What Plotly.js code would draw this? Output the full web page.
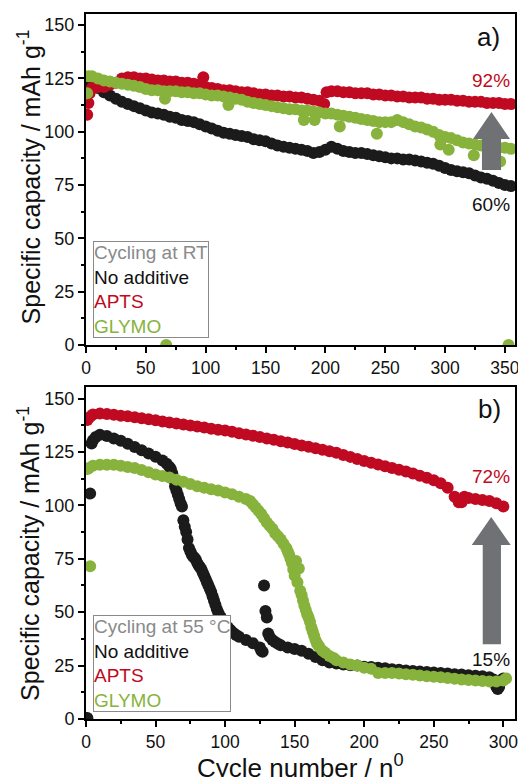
<!DOCTYPE html>
<html>
<head>
<meta charset="utf-8">
<script src="https://cdn.plot.ly/plotly-3.0.1.min.js"></script>
<style>html,body{margin:0;padding:0;background:#fff;}#chart{width:518px;height:777px;}</style>
</head>
<body>
<div id="chart"></div>
<script>
// ---- Panel a) cycling at RT : [cycle, capacity mAh/g]
const rtNoAdditive = [[1,123],[5,122],[10,120.5],[15,118.5],[20,117],[25,115.5],[30,114],[35,113],[40,112],[45,111],[50,110],[55,109],[60,108.5],[65,108],[70,107],[75,106.5],[80,105.5],[85,105],[90,104.5],[95,103.5],[100,102.5],[105,101.5],[110,100.5],[115,99.5],[120,99],[125,98.5],[130,98],[135,97.5],[140,96.5],[145,96],[150,95.5],[155,94.5],[160,93.5],[165,93],[170,92.5],[175,92],[180,91.5],[185,91],[190,90],[195,90.5],[200,91.5],[205,93],[210,92],[215,91],[220,90.5],[225,90],[230,90],[235,89.5],[240,89],[245,88.5],[250,88],[255,87.5],[260,87.5],[265,87],[270,87],[275,86.5],[280,86],[285,85.5],[290,85],[295,84],[300,83],[305,82],[310,81.5],[315,81],[320,80.5],[325,79.5],[330,78.5],[335,78],[340,77],[345,76],[350,75],[355,74.5]];
const rtAPTS = [[1,108],[2,113.5],[3,118],[5,120.5],[10,121],[15,121],[20,122],[25,123],[30,125],[35,125.5],[40,125.5],[45,125],[50,125],[55,124.5],[60,124],[65,124],[70,123.5],[75,123.5],[80,123],[85,123],[90,122.5],[95,122],[98,125.5],[100,121],[105,120.5],[110,120],[115,119.5],[120,119.5],[125,119],[130,118.5],[135,118.5],[140,118],[145,117.5],[150,117.5],[155,117],[160,117],[165,116.5],[170,116.5],[175,116],[180,116],[185,115.5],[190,115],[195,114.5],[199,113],[201,118.5],[205,119],[210,119],[215,118.5],[220,118.5],[225,118],[230,118],[235,118],[240,117.5],[245,117.5],[250,117],[255,117],[260,116.5],[265,116.5],[270,116],[275,116],[280,116],[285,115.5],[290,115.5],[295,115],[300,115],[305,115],[310,114.5],[315,114.5],[320,114],[325,114],[330,114],[335,113.5],[340,113.5],[345,113.5],[350,113],[355,113]];
const rtGLYMO = [[1,118],[2,126],[5,126],[10,125],[15,124],[20,123.5],[25,123],[30,122.5],[35,122],[40,121.5],[45,121],[50,120],[55,119.5],[60,119.5],[65,119],[66,115.5],[67,0],[70,119],[75,119],[80,118.5],[85,118.5],[90,118],[95,118],[100,117.5],[105,117],[110,117],[115,116.5],[119,112.5],[120,116],[125,115.5],[130,115],[135,114],[140,113.5],[145,113],[150,112.5],[155,112],[160,111.5],[165,111],[170,110.5],[175,110.5],[180,110],[182,105.5],[185,110],[190,109.5],[191,105.5],[195,109],[200,108.5],[205,108.5],[210,108],[212,102.5],[215,107.5],[220,107],[225,106.5],[230,106],[235,105.5],[240,105],[243,99],[245,104.5],[250,104.5],[255,104.5],[260,105.5],[265,104.5],[270,103.5],[275,102.5],[280,102],[285,101],[290,100],[295,98.5],[296,94],[300,97.5],[303,91.5],[305,97],[310,96],[315,95],[320,94.5],[324,89],[325,94],[330,93.5],[335,94.5],[340,93],[345,92.5],[346,86],[350,92.5],[353,0],[355,92]];

// ---- Panel b) cycling at 55 °C
const htNoAdditive = [[1,0.5],[3,105.5],[4,129],[5,130.5],[7,132],[10,133],[15,132.5],[20,131.3],[25,130.2],[30,128.8],[35,127.3],[40,125.8],[45,124.3],[50,122.8],[55,121],[58,119.5],[60,118],[61,117],[62,115],[63,112],[64,109],[65,107],[66,105],[67,103],[68,101],[69,99.5],[70,93],[71,90],[72,87.5],[73,84],[74,80],[75,78.5],[76,77],[77,76],[78,75.5],[79,74.5],[80,73],[81,72],[82,71],[83,70],[84,68.5],[85,67],[86,65.5],[87,64],[88,62.5],[89,61],[90,59.5],[91,57.5],[92,55.5],[93,53.5],[94,51.5],[95,50],[96,48.5],[97,47.5],[98,46.5],[99,45.5],[100,44.5],[102,43],[104,41.5],[106,40.3],[108,39.3],[110,38.5],[115,37],[120,35.5],[125,33.5],[126,32],[127,31.5],[128,62.5],[129,50.5],[130,47.5],[131,40],[132,38.5],[134,37],[136,36],[138,35.2],[140,34.5],[145,33.5],[150,32.8],[155,32],[160,30.5],[165,29],[170,27.5],[175,26.5],[180,26],[185,25.5],[190,25.2],[195,25],[200,24.5],[205,24.3],[210,24],[215,23.7],[220,23.3],[225,23],[230,22.7],[235,22.5],[240,22.2],[245,22],[250,21.8],[255,21.5],[260,21.3],[265,21],[270,20.8],[275,20.5],[280,20.3],[285,20],[290,19.5],[293,18.5],[295,15],[296,14],[297,15],[299,18],[300,19]];
const htAPTS = [[1,140],[3,141.5],[5,142.5],[10,143],[15,142.8],[20,142.4],[25,142],[30,141.7],[35,141.3],[40,140.8],[45,140.3],[50,139.8],[55,139.3],[60,138.8],[65,138.3],[70,137.8],[75,137.4],[80,136.9],[85,136.4],[90,135.9],[95,135.4],[100,135],[105,134.5],[110,133.8],[115,133.2],[120,132.6],[125,132],[130,131.3],[135,130.7],[140,130],[145,129.4],[150,128.7],[155,128],[160,127.4],[165,126.7],[170,126],[175,125.3],[180,124.6],[185,123.6],[190,122.7],[195,121.7],[200,120.8],[205,119.9],[210,119.1],[215,118.3],[220,117.5],[225,116.7],[230,115.8],[235,114.9],[240,113.9],[245,112.9],[250,111.8],[255,110.3],[260,108.2],[265,104],[268,101.5],[270,101.5],[272,104],[275,103.5],[280,103],[285,102.5],[290,102],[295,101],[300,99.5]];
const htGLYMO = [[1,117],[2,117.5],[3,71.5],[5,118.5],[10,119],[15,119],[20,119],[25,118.5],[30,118],[35,117.5],[40,116.5],[45,115.5],[50,114.5],[55,113.8],[60,113],[65,112],[70,111],[75,110],[80,109],[85,108.3],[90,107.6],[95,107],[100,106],[105,105.2],[110,104],[115,103],[118,102],[120,100.5],[122,99],[124,97.5],[126,96],[128,94],[130,92],[132,90.5],[134,89],[136,87],[138,85.5],[140,84],[142,82],[144,80],[145,78.5],[146,77],[147,75],[148,73],[149,70],[150,67],[151,74],[152,64],[153,70.5],[154,60],[155,58],[156,55.5],[157,53],[158,51],[159,49],[160,47.5],[161,45.5],[162,43],[163,41],[164,39],[165,37],[166,35.5],[167,34.5],[168,33.5],[170,32],[172,31],[175,29.5],[178,28.5],[180,27.5],[185,26.5],[190,25.5],[195,25],[200,24],[205,23.5],[210,21.5],[215,21.5],[220,21.5],[225,21.3],[230,21],[235,20.7],[240,20.4],[245,20],[250,19.8],[255,19.5],[260,19.2],[265,18.8],[270,18.5],[275,18.2],[280,18],[285,17.8],[290,17.6],[295,17.5],[300,18],[302,19]];

const yTicks = [0, 25, 50, 75, 100, 125, 150];
const xTicksA = [0, 50, 100, 150, 200, 250, 300, 350];
const xTicksB = [0, 50, 100, 150, 200, 250, 300];

const cBlack = '#1b1b1b', cRed = '#c00a22', cGreen = '#87b33c', cGray = '#707174';
const FONT = 'Liberation Sans, Arial, sans-serif';

function tr(data, color, xa, ya) {
  return {
    type: 'scatter', mode: 'markers',
    x: data.map(d => d[0]), y: data.map(d => d[1]),
    xaxis: xa, yaxis: ya,
    marker: {color: color, size: 12, line: {width: 0}},
    hoverinfo: 'skip', showlegend: false
  };
}

const traces = [
  tr(rtNoAdditive, cBlack, 'x', 'y'),
  tr(rtAPTS, cRed, 'x', 'y'),
  tr(rtGLYMO, cGreen, 'x', 'y'),
  tr(htNoAdditive, cBlack, 'x2', 'y2'),
  tr(htAPTS, cRed, 'x2', 'y2'),
  tr(htGLYMO, cGreen, 'x2', 'y2')
];

function xax(range, ticks, anchor) {
  return {
    range: range, anchor: anchor, domain: [0, 1],
    tickmode: 'array', tickvals: ticks, ticktext: ticks.map(String),
    ticks: 'outside', ticklen: 6, tickwidth: 2, tickcolor: '#000',
    minor: {dtick: 25, tick0: 0, ticks: 'outside', ticklen: 3, tickwidth: 2, tickcolor: '#000'},
    showline: true, linewidth: 2, linecolor: '#000', mirror: true,
    showgrid: false, zeroline: false, ticklabeloverflow: 'allow',
    tickfont: {family: FONT, size: 17.5, color: '#111'}
  };
}
function yax(range, domain, anchor) {
  return {
    range: range, anchor: anchor, domain: domain,
    tickmode: 'array', tickvals: yTicks, ticktext: yTicks.map(String),
    ticks: 'outside', ticklen: 6, tickwidth: 2, tickcolor: '#000',
    minor: {dtick: 12.5, tick0: 0, ticks: 'outside', ticklen: 3, tickwidth: 2, tickcolor: '#000'},
    showline: true, linewidth: 2, linecolor: '#000', mirror: true,
    showgrid: false, zeroline: false, ticklabeloverflow: 'allow',
    tickfont: {family: FONT, size: 18, color: '#111'}
  };
}

function arrowPath(xl, xsl, xsr, xr, yTip, yBase, yBot) {
  const xc = (xl + xr) / 2;
  return `M ${xsl} ${yBot} L ${xsl} ${yBase} L ${xl} ${yBase} L ${xc} ${yTip} L ${xr} ${yBase} L ${xsr} ${yBase} L ${xsr} ${yBot} Z`;
}

const legA = '<span style="color:#8a8a8a">Cycling at RT</span><br><span style="color:#111">No additive</span><br><span style="color:' + cRed + '">APTS</span><br><span style="color:' + cGreen + '">GLYMO</span>';
const legB = '<span style="color:#8a8a8a">Cycling at 55 °C</span><br><span style="color:#111">No additive</span><br><span style="color:' + cRed + '">APTS</span><br><span style="color:' + cGreen + '">GLYMO</span>';

const layout = {
  width: 518, height: 777,
  margin: {l: 86, r: 3, t: 14, b: 58},
  paper_bgcolor: '#fff', plot_bgcolor: '#fff',
  font: {family: FONT, color: '#111'},
  showlegend: false,
  xaxis: xax([0, 358.4], xTicksA, 'y'),
  yaxis: yax([0, 155.2], [0.5305, 1], 'x'),
  xaxis2: xax([0, 308.4], xTicksB, 'y2'),
  yaxis2: yax([0, 155.4], [0, 0.4709], 'x2'),
  shapes: [
    {type: 'path', xref: 'x', yref: 'y', path: arrowPath(323.3, 330.8, 346.7, 354.2, 109.2, 96.6, 82), fillcolor: cGray, line: {width: 0}},
    {type: 'path', xref: 'x2', yref: 'y2', path: arrowPath(277.3, 285.2, 298.3, 305.3, 94.6, 81.5, 35), fillcolor: cGray, line: {width: 0}}
  ],
  annotations: [
    {xref: 'x', yref: 'y', x: 5.8, y: 3.3, xanchor: 'left', yanchor: 'bottom', align: 'left', showarrow: false,
     text: legA, font: {family: FONT, size: 19}, bordercolor: '#8a8a8a', borderwidth: 1, borderpad: 0, bgcolor: '#fff'},
    {xref: 'x2', yref: 'y2', x: 5, y: 3.3, xanchor: 'left', yanchor: 'bottom', align: 'left', showarrow: false,
     text: legB, font: {family: FONT, size: 19}, bordercolor: '#8a8a8a', borderwidth: 1, borderpad: 0, bgcolor: '#fff'},
    {xref: 'x', yref: 'y', x: 347.5, y: 144.4, xanchor: 'right', yanchor: 'middle', showarrow: false,
     text: 'a)', font: {family: FONT, size: 26, color: '#111'}},
    {xref: 'x2', yref: 'y2', x: 299.8, y: 145, xanchor: 'right', yanchor: 'middle', showarrow: false,
     text: 'b)', font: {family: FONT, size: 26, color: '#111'}},
    {xref: 'x', yref: 'y', x: 338.3, y: 123.8, showarrow: false, text: '92%', font: {family: FONT, size: 19, color: cRed}},
    {xref: 'x', yref: 'y', x: 338.3, y: 65.9, showarrow: false, text: '60%', font: {family: FONT, size: 19, color: '#111'}},
    {xref: 'x2', yref: 'y2', x: 291.2, y: 113.7, showarrow: false, text: '72%', font: {family: FONT, size: 19, color: cRed}},
    {xref: 'x2', yref: 'y2', x: 291.2, y: 27.8, showarrow: false, text: '15%', font: {family: FONT, size: 19, color: '#111'}},
    {xref: 'paper', yref: 'paper', x: -0.133, y: 0.7695, xanchor: 'center', yanchor: 'middle', textangle: -90, showarrow: false,
     text: 'Specific capacity / mAh g<sup>-1</sup>', font: {family: FONT, size: 25, color: '#111'}},
    {xref: 'paper', yref: 'paper', x: -0.133, y: 0.2355, xanchor: 'center', yanchor: 'middle', textangle: -90, showarrow: false,
     text: 'Specific capacity / mAh g<sup>-1</sup>', font: {family: FONT, size: 25, color: '#111'}},
    {xref: 'paper', yref: 'paper', x: 0.501, y: -0.068, xanchor: 'center', yanchor: 'middle', showarrow: false,
     text: 'Cycle number / n<sup>0</sup>', font: {family: FONT, size: 26, color: '#111'}}
  ]
};

Plotly.newPlot('chart', traces, layout, {displayModeBar: false, staticPlot: true});
</script>
</body>
</html>
